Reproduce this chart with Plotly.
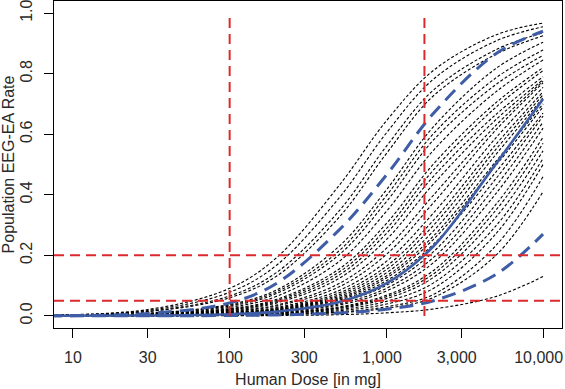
import plotly.graph_objects as go

# ---- data ----
dose = [5, 30, 100, 200, 500, 1000, 2000, 5000, 10000]

sim_curves = [
    [0.002, 0.021, 0.091, 0.193, 0.431, 0.644, 0.811, 0.928, 0.967],
    [0.002, 0.018, 0.078, 0.168, 0.390, 0.604, 0.782, 0.908, 0.955],
    [0.002, 0.015, 0.066, 0.144, 0.347, 0.560, 0.746, 0.879, 0.935],
    [0.0015, 0.014, 0.060, 0.132, 0.326, 0.536, 0.727, 0.864, 0.925],
    [0.001, 0.009, 0.038, 0.086, 0.230, 0.416, 0.625, 0.817, 0.904],
    [0.001, 0.008, 0.035, 0.080, 0.215, 0.397, 0.602, 0.786, 0.878],
    [0.001, 0.007, 0.032, 0.074, 0.202, 0.377, 0.581, 0.764, 0.860],
    [0.001, 0.006, 0.028, 0.065, 0.180, 0.345, 0.547, 0.740, 0.845],
    [0.001, 0.005, 0.024, 0.055, 0.155, 0.305, 0.502, 0.704, 0.820],
    [0.001, 0.005, 0.022, 0.051, 0.145, 0.288, 0.482, 0.689, 0.810],
    [0.0005, 0.0045, 0.020, 0.047, 0.135, 0.272, 0.461, 0.665, 0.790],
    [0.0004, 0.004, 0.018, 0.043, 0.124, 0.252, 0.436, 0.648, 0.780],
    [0.0004, 0.0035, 0.016, 0.036, 0.107, 0.223, 0.399, 0.629, 0.775],
    [0.0003, 0.003, 0.014, 0.033, 0.096, 0.203, 0.374, 0.614, 0.770],
    [0.0003, 0.0026, 0.012, 0.028, 0.084, 0.180, 0.340, 0.588, 0.755],
    [0.0002, 0.0024, 0.011, 0.025, 0.076, 0.164, 0.316, 0.566, 0.740],
    [0.0002, 0.0022, 0.010, 0.023, 0.070, 0.153, 0.299, 0.550, 0.730],
    [0.0002, 0.002, 0.009, 0.021, 0.065, 0.142, 0.281, 0.533, 0.720],
    [0.0002, 0.0018, 0.008, 0.020, 0.060, 0.132, 0.264, 0.510, 0.700],
    [0.0002, 0.0017, 0.008, 0.019, 0.056, 0.125, 0.253, 0.497, 0.690],
    [0.0002, 0.0016, 0.007, 0.017, 0.052, 0.116, 0.237, 0.475, 0.670],
    [0.0001, 0.0014, 0.006, 0.015, 0.045, 0.101, 0.212, 0.453, 0.660],
    [0.0001, 0.0012, 0.0055, 0.013, 0.040, 0.091, 0.193, 0.429, 0.640],
    [0.0001, 0.0011, 0.005, 0.0116, 0.036, 0.082, 0.176, 0.404, 0.620],
    [0.0001, 0.0009, 0.004, 0.0096, 0.030, 0.068, 0.150, 0.368, 0.590],
    [0.0001, 0.0008, 0.0037, 0.0087, 0.027, 0.063, 0.139, 0.349, 0.570],
    [0.0001, 0.0007, 0.0033, 0.008, 0.025, 0.057, 0.127, 0.326, 0.545],
    [0.0001, 0.0006, 0.0028, 0.0066, 0.021, 0.048, 0.109, 0.297, 0.520],
    [0.0001, 0.0005, 0.0022, 0.0054, 0.017, 0.039, 0.091, 0.271, 0.500],
    [0.0, 0.0004, 0.0017, 0.004, 0.013, 0.030, 0.071, 0.232, 0.460],
    [0.0, 0.0003, 0.0014, 0.0034, 0.011, 0.025, 0.061, 0.200, 0.410],
    [0.0, 0.0001, 0.0006, 0.0013, 0.004, 0.010, 0.023, 0.064, 0.130],
]

median_curve = [0.0001, 0.0012, 0.0056, 0.014, 0.0455, 0.107, 0.230, 0.502, 0.716]
upper_curve = [0.0006, 0.008, 0.043, 0.108, 0.284, 0.465, 0.669, 0.866, 0.940]
lower_curve = [0.0001, 0.0003, 0.0014, 0.0032, 0.0096, 0.022, 0.050, 0.137, 0.270]

ref_doses = [100, 1750]
ref_rates = [0.05, 0.2]

NB = "\u00a0\u00a0"
x_ticks = [10, 30, 100, 300, 1000, 3000, 10000]
x_tick_labels = ["10", "30", "100", "300", "1,000" + NB, "3,000" + NB, "10,000" + NB]
y_ticks = [0.0, 0.2, 0.4, 0.6, 0.8, 1.0]
y_tick_labels = ["0.0", "0.2", "0.4", "0.6", "0.8", "1.0"]

BLUE = "#3E5DA6"
RED = "#DC2A2C"
FONT = "Liberation Sans, Arial, sans-serif"
TXT = "#2a2a2a"

fig = go.Figure()

for c in sim_curves:
    fig.add_trace(go.Scatter(
        x=dose, y=c, mode="lines", line_shape="spline",
        line=dict(color="black", width=1.1, dash="3px,2px"),
        hoverinfo="skip", showlegend=False))

fig.add_trace(go.Scatter(x=dose, y=median_curve, mode="lines", line_shape="spline",
                         line=dict(color=BLUE, width=2.6), showlegend=False))
for c in (upper_curve, lower_curve):
    fig.add_trace(go.Scatter(x=dose, y=c, mode="lines", line_shape="spline",
                             line=dict(color=BLUE, width=3, dash="14px,8px"),
                             showlegend=False))

for d in ref_doses:
    fig.add_shape(type="line", xref="x", yref="y", x0=d, x1=d, y0=0, y1=1,
                  line=dict(color=RED, width=2, dash="10px,6px"), layer="above")
for r in ref_rates:
    fig.add_shape(type="line", xref="paper", yref="y", x0=0, x1=1, y0=r, y1=r,
                  line=dict(color=RED, width=2, dash="10px,6px"), layer="above")

axis_common = dict(showline=True, mirror=True, linecolor="black", linewidth=1,
                   showgrid=False, zeroline=False, ticks="outside", ticklen=9,
                   tickcolor="black", tickwidth=1, automargin=False,
                   ticklabeloverflow="allow",
                   tickfont=dict(family=FONT, size=16, color=TXT))

fig.update_xaxes(type="log", range=[0.879, 4.121], tickvals=x_ticks, ticktext=x_tick_labels,
                 ticklabelstandoff=6,
                 title=dict(text="Human Dose [in mg]", font=dict(family=FONT, size=16, color=TXT),
                            standoff=8),
                 **axis_common)
fig.update_yaxes(range=[-0.04, 1.04], tickvals=y_ticks, ticktext=y_tick_labels, tickangle=-90,
                 ticklabelstandoff=6,
                 title=dict(text="Population EEG-EA Rate", font=dict(family=FONT, size=16, color=TXT),
                            standoff=4),
                 **axis_common)

fig.update_layout(width=565, height=389, margin=dict(l=54, r=3, t=1, b=61),
                  plot_bgcolor="white", paper_bgcolor="white", showlegend=False)

fig.write_html("out.html", config={"displayModeBar": False},
               post_script="document.body.style.margin='0';document.body.style.overflow='hidden';")
